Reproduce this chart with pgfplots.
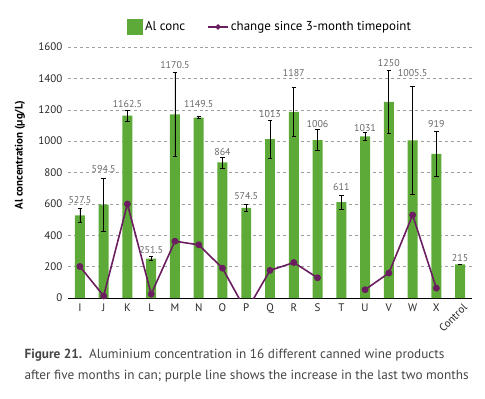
\documentclass[border=0pt]{standalone}
\usepackage{pgfplots}
\pgfplotsset{compat=1.18}
\usepackage{fontspec}
\setmainfont{PT Sans}
\definecolor{barGreen}{RGB}{94,170,56}
\definecolor{linePurple}{RGB}{106,30,96}
\definecolor{labGrey}{RGB}{105,105,105}
\definecolor{capGrey}{RGB}{70,70,70}
\begin{document}
\begin{tikzpicture}[x=1bp,y=1bp]
\path[use as bounding box] (0,0) rectangle (485,398);
\begin{axis}[
  at={(68bp,100bp)}, anchor=south west,
  scale only axis, width=404bp, height=251bp,
  xmin=-0.5, xmax=16.5, ymin=0, ymax=1600,
  ytick={0,200,...,1600},
  xtick={0,...,15},
  xticklabels={I,J,K,L,M,N,O,P,Q,R,S,T,U,V,W,X},
  extra x ticks={16}, extra x tick labels={Control},
  extra x tick style={xticklabel style={rotate=45,anchor=north east,xshift=3bp}},
  ymajorgrids, grid style={dashed, gray!75, thin},
  axis x line=bottom, axis y line=left,
  axis line style={-},
  y axis line style={draw=none},
  x axis line style={black, line width=0.9bp},
  tick style={draw=none},
  /pgf/number format/assume math mode=true,
  /pgf/number format/1000 sep={},
  ticklabel style={font=\fontsize{11}{12}\selectfont, text=black!85},
  ylabel={\bfseries Al concentration (µg/L)},
  ylabel style={at={(axis description cs:-0.119,0.57)}, anchor=center, font=\fontsize{11}{12}\selectfont},
  legend style={at={(axis description cs:0.5,1.08)}, anchor=center, draw=none, fill=none,
    legend columns=-1, font=\fontsize{13}{15}\selectfont,
    /tikz/every even column/.append style={column sep=20bp}},
  legend cell align=left,
]
\addplot[ybar, bar width=0.42, fill=barGreen, draw=none,
  legend image code/.code={\fill[barGreen] (0bp,-8bp) rectangle (16bp,8bp);},
  error bars/.cd, y dir=both, y explicit,
  error bar style={black, line width=0.7bp},
  error mark options={black, rotate=90, mark size=2.2bp, line width=0.7bp}]
  table[x=x, y=y, y error=e] {
x y e
0 527.5 47
1 594.5 170
2 1162.5 36
3 251.5 12
4 1170.5 265
5 1149.5 6
6 864 35
7 574.5 25
8 1013 120
9 1187 157
10 1006 67
11 611 45
12 1031 25
13 1250 200
14 1005.5 343
15 919 146
16 215 0
};
\addlegendentry{Al conc}
\addplot[linePurple, line width=1.6bp, mark=*, mark size=2.6bp, unbounded coords=jump,
  legend image code/.code={\draw[linePurple,line width=1.6bp] (0bp,0bp) -- (20bp,0bp); \fill[linePurple] (10bp,0bp) circle (1.8bp);}]
  table[x=x, y=y] {
x y
0 201
1 13
2 599
3 25
4 362
5 339
6 190
7 -85
8 176
9 226
10 129
11 nan
12 53
13 159
14 529
15 63
16 nan
};
\addlegendentry{change since 3-month timepoint}
\addplot[draw=none, mark=none, forget plot, nodes near coords, point meta=explicit symbolic,
  every node near coord/.style={anchor=center, font=\fontsize{10}{11}\selectfont, text=labGrey}]
  table[x=x, y=y, meta=lab] {
x y lab
0 624 527.5
1 825 594.5
2 1238 1162.5
3 305 251.5
4 1488 1170.5
5 1238 1149.5
6 933 864
7 652 574.5
8 1170 1013
9 1435 1187
10 1111 1006
11 705 611
12 1084 1031
13 1498 1250
14 1435 1005.5
15 1111 919
16 256 215
};
\end{axis}
\node[anchor=west, text=capGrey, font=\fontsize{13.3}{16}\selectfont] at (21,43) {\textbf{Figure 21.}\ \ Aluminium concentration in 16 different canned wine products};
\node[anchor=west, text=capGrey, font=\fontsize{13.3}{16}\selectfont] at (21,22) {after five months in can; purple line shows the increase in the last two months};
\end{tikzpicture}
\end{document}
